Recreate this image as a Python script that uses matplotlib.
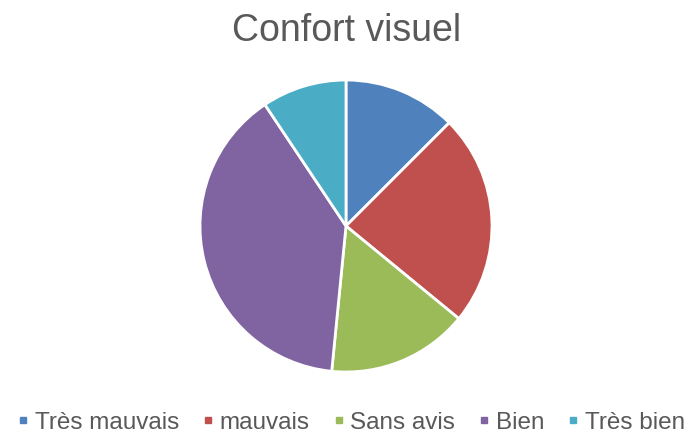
import matplotlib.pyplot as plt
from matplotlib.lines import Line2D

# Données
categories = ['Très mauvais', 'mauvais', 'Sans avis', 'Bien', 'Très bien']
valeurs = [8, 15, 10, 25, 6]
couleurs = ['#4F81BD', '#C0504D', '#9BBB59', '#8064A2', '#4BACC6']

plt.rcParams['font.family'] = ['Liberation Sans', 'DejaVu Sans']

fig = plt.figure(figsize=(6.88, 4.36), dpi=100)
ax = fig.add_axes([0.2907, 0.1468, 0.4244, 0.6697])

ax.pie(valeurs, colors=couleurs, startangle=90, counterclock=False,
       wedgeprops=dict(edgecolor='white', linewidth=2))
ax.set_xlim(-1, 1)
ax.set_ylim(-1, 1)

fig.text(0.503, 0.93, 'Confort visuel', ha='center', va='center',
         fontsize=27, color='#595959')

handles = [Line2D([], [], marker='s', linestyle='none', markersize=4.5,
                  markerfacecolor=c, markeredgecolor=c) for c in couleurs]
fig.legend(handles, categories, loc='center', bbox_to_anchor=(0.511, 0.03),
           ncol=5, frameon=False, fontsize=17.5, labelcolor='#595959',
           handlelength=0.4, handletextpad=0.27, columnspacing=1.0,
           borderpad=0, borderaxespad=0)

fig.savefig('out.png', dpi=100)
